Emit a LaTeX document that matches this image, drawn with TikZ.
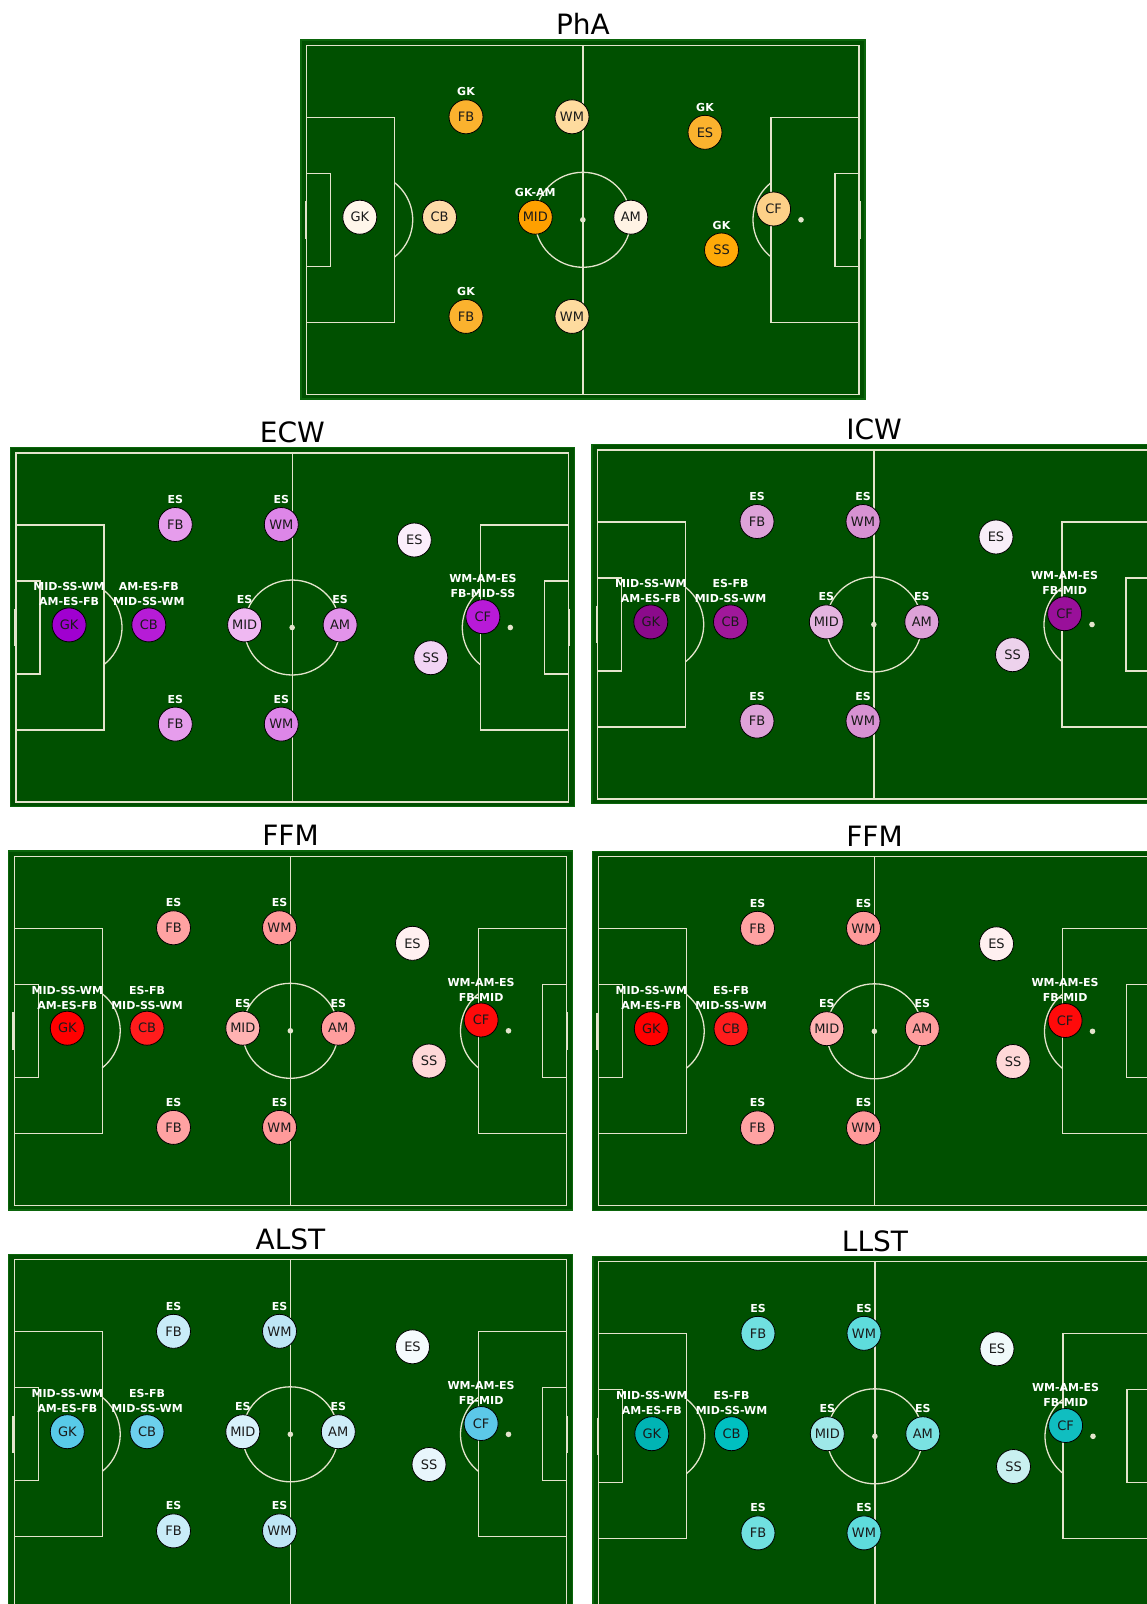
\documentclass[tikz,border=0pt]{standalone}
\usepackage{fontspec}
\setmainfont{DejaVu Sans}
\definecolor{pitchgreen}{HTML}{005000}
\definecolor{pitchedge}{HTML}{0B650B}
\definecolor{linecol}{HTML}{E4E4CC}
\definecolor{textdark}{HTML}{1A1A1A}
% PhA (orange)
\definecolor{phaGK}{HTML}{FFF6EA}
\definecolor{phaCB}{HTML}{FEDCA8}
\definecolor{phaMID}{HTML}{FFA000}
\definecolor{phaAM}{HTML}{FFF3E4}
\definecolor{phaFB}{HTML}{FBB22E}
\definecolor{phaWM}{HTML}{FEDB9E}
\definecolor{phaES}{HTML}{FBB22E}
\definecolor{phaSS}{HTML}{FFAA08}
\definecolor{phaCF}{HTML}{FDD088}
% ECW (violet)
\definecolor{ecwGK}{HTML}{A000D0}
\definecolor{ecwCB}{HTML}{B61CD6}
\definecolor{ecwMID}{HTML}{EFB8F2}
\definecolor{ecwAM}{HTML}{E293EA}
\definecolor{ecwFB}{HTML}{E69DEC}
\definecolor{ecwWM}{HTML}{DD86E8}
\definecolor{ecwES}{HTML}{FBEEFB}
\definecolor{ecwSS}{HTML}{F2D4F4}
\definecolor{ecwCF}{HTML}{B81AD8}
% ICW (magenta)
\definecolor{icwGK}{HTML}{8B0A8B}
\definecolor{icwCB}{HTML}{A0189A}
\definecolor{icwMID}{HTML}{E4B4E0}
\definecolor{icwAM}{HTML}{DDA2D8}
\definecolor{icwFB}{HTML}{DDA2D8}
\definecolor{icwWM}{HTML}{D792D2}
\definecolor{icwES}{HTML}{F8EEF8}
\definecolor{icwSS}{HTML}{EDD2EC}
\definecolor{icwCF}{HTML}{99109A}
% FFM (red)
\definecolor{ffmGK}{HTML}{FF0000}
\definecolor{ffmCB}{HTML}{FF1C1C}
\definecolor{ffmMID}{HTML}{FFB2B2}
\definecolor{ffmAM}{HTML}{FF9E9E}
\definecolor{ffmFB}{HTML}{FFA2A2}
\definecolor{ffmWM}{HTML}{FF9A9A}
\definecolor{ffmES}{HTML}{FFF0F0}
\definecolor{ffmSS}{HTML}{FFD8D8}
\definecolor{ffmCF}{HTML}{FF0A0A}
% ALST (light blue)
\definecolor{alsGK}{HTML}{58CAE8}
\definecolor{alsCB}{HTML}{6CD0EC}
\definecolor{alsMID}{HTML}{D8F1FA}
\definecolor{alsAM}{HTML}{CEEEF8}
\definecolor{alsFB}{HTML}{C9ECF8}
\definecolor{alsWM}{HTML}{BEE6F5}
\definecolor{alsES}{HTML}{F5FBFD}
\definecolor{alsSS}{HTML}{E8F6FC}
\definecolor{alsCF}{HTML}{5CC8E8}
% LLST (turquoise)
\definecolor{llsGK}{HTML}{00B4B4}
\definecolor{llsCB}{HTML}{00C0C0}
\definecolor{llsMID}{HTML}{9EE8E8}
\definecolor{llsAM}{HTML}{7AE2E2}
\definecolor{llsFB}{HTML}{70E0E0}
\definecolor{llsWM}{HTML}{5EDCDC}
\definecolor{llsES}{HTML}{F0FAFA}
\definecolor{llsSS}{HTML}{C9F0F0}
\definecolor{llsCF}{HTML}{10BEC0}

\tikzset{
  pitchbox/.style={fill=pitchgreen, draw=pitchedge, line width=1.4pt},
  pline/.style={draw=linecol, line width=1.3pt},
  player/.style={circle, draw=black, line width=0.8pt, minimum size=34pt, inner sep=0pt,
    font=\fontsize{13}{13}\selectfont, text=textdark},
  lab/.style={font=\bfseries\fontsize{11}{12}\selectfont, text=white, inner sep=0pt, anchor=base},
  ttl/.style={font=\fontsize{28}{28}\selectfont, text=black, inner sep=0pt, anchor=base},
}

% #1 x, #2 y, #3 title, #4 name prefix, #5 colour set
\newcommand{\pitchpanel}[5]{%
  \begin{scope}[shift={(#1,#2)}]
    \draw[pitchbox] (0,0) rectangle (564,359);
    \draw[pline] (5.7,5.3) rectangle (558,354.3);
    \draw[pline] (281.85,5.3) -- (281.85,354.3);
    \draw[pline] (281.85,179.8) ellipse [x radius=48, y radius=47.5];
    \fill[linecol] (281.85,179.8) circle [radius=2.8];
    \draw[pline] (5.7,77.3) rectangle (93.7,282.3);
    \draw[pline] (470,77.3) rectangle (558,282.3);
    \draw[pline] (5.7,133.3) rectangle (29.7,226.3);
    \draw[pline] (534,133.3) rectangle (558,226.3);
    \draw[pline] (4.6,161) -- (4.6,198.6);
    \draw[pline] (559.1,161) -- (559.1,198.6);
    \draw[pline] (63.7,179.8) ++(-51.3:48 and 47.5) arc [start angle=-51.3, end angle=51.3, x radius=48, y radius=47.5];
    \draw[pline] (500,179.8) ++(128.7:48 and 47.5) arc [start angle=128.7, end angle=231.3, x radius=48, y radius=47.5];
    \fill[linecol] (63.7,179.8) circle [radius=2.8];
    \fill[linecol] (500,179.8) circle [radius=2.8];
    \node[ttl] (#4title) at (282,-5.5) {#3};
    \node[player, fill=#5GK]  (#4GK)  at (58.8,177.2) {GK};
    \node[player, fill=#5CB]  (#4CB)  at (138.5,177.2) {CB};
    \node[player, fill=#5MID] (#4MID) at (234.3,177.2) {MID};
    \node[player, fill=#5AM]  (#4AM)  at (329.8,177.2) {AM};
    \node[player, fill=#5FB]  (#4FBa) at (165,76.8) {FB};
    \node[player, fill=#5FB]  (#4FBb) at (165,276.4) {FB};
    \node[player, fill=#5WM]  (#4WMa) at (271,76.8) {WM};
    \node[player, fill=#5WM]  (#4WMb) at (271,276.4) {WM};
    \node[player, fill=#5ES]  (#4ES)  at (404,92.3) {ES};
    \node[player, fill=#5SS]  (#4SS)  at (420.5,210) {SS};
    \node[player, fill=#5CF]  (#4CF)  at (472.6,169) {CF};
  \end{scope}}

\newcommand{\onelab}[2]{\node[lab] (#1l) at ([yshift=21pt]#1.center) {#2};}
\newcommand{\twolab}[3]{%
  \node[lab] (#1la) at ([yshift=34pt]#1.center) {#2};
  \node[lab] (#1lb) at ([yshift=19pt]#1.center) {#3};}
% standard label set (ICW, FFM, ALST, LLST)
\newcommand{\stdlabels}[1]{%
  \twolab{#1GK}{MID-SS-WM}{AM-ES-FB}
  \twolab{#1CB}{ES-FB}{MID-SS-WM}
  \twolab{#1CF}{WM-AM-ES}{FB-MID}
  \onelab{#1FBa}{ES}\onelab{#1FBb}{ES}
  \onelab{#1WMa}{ES}\onelab{#1WMb}{ES}
  \onelab{#1MID}{ES}\onelab{#1AM}{ES}}

\begin{document}
\begin{tikzpicture}[x=1pt, y=-1pt]
  \useasboundingbox (0,0) rectangle (1147,1604);
  \clip (0,0) rectangle (1147,1604);
  \fill[white] (0,0) rectangle (1147,1604);

  \pitchpanel{301}{40}{PhA}{pha}{pha}
  \pitchpanel{10.3}{447.7}{ECW}{ecw}{ecw}
  \pitchpanel{592}{444.7}{ICW}{icw}{icw}
  \pitchpanel{8.5}{851}{FFM}{ffm}{ffm}
  \pitchpanel{592.5}{851.5}{FFM}{ffn}{ffm}
  \pitchpanel{8.5}{1254.5}{ALST}{als}{als}
  \pitchpanel{593}{1256.5}{LLST}{lls}{lls}

  % PhA labels
  \onelab{phaFBa}{GK}
  \onelab{phaFBb}{GK}
  \onelab{phaES}{GK}
  \onelab{phaSS}{GK}
  \onelab{phaMID}{GK-AM}

  % ECW labels
  \twolab{ecwGK}{MID-SS-WM}{AM-ES-FB}
  \twolab{ecwCB}{AM-ES-FB}{MID-SS-WM}
  \twolab{ecwCF}{WM-AM-ES}{FB-MID-SS}
  \onelab{ecwFBa}{ES}\onelab{ecwFBb}{ES}
  \onelab{ecwWMa}{ES}\onelab{ecwWMb}{ES}
  \onelab{ecwMID}{ES}\onelab{ecwAM}{ES}

  \stdlabels{icw}
  \stdlabels{ffm}
  \stdlabels{ffn}
  \stdlabels{als}
  \stdlabels{lls}
\end{tikzpicture}
\end{document}
